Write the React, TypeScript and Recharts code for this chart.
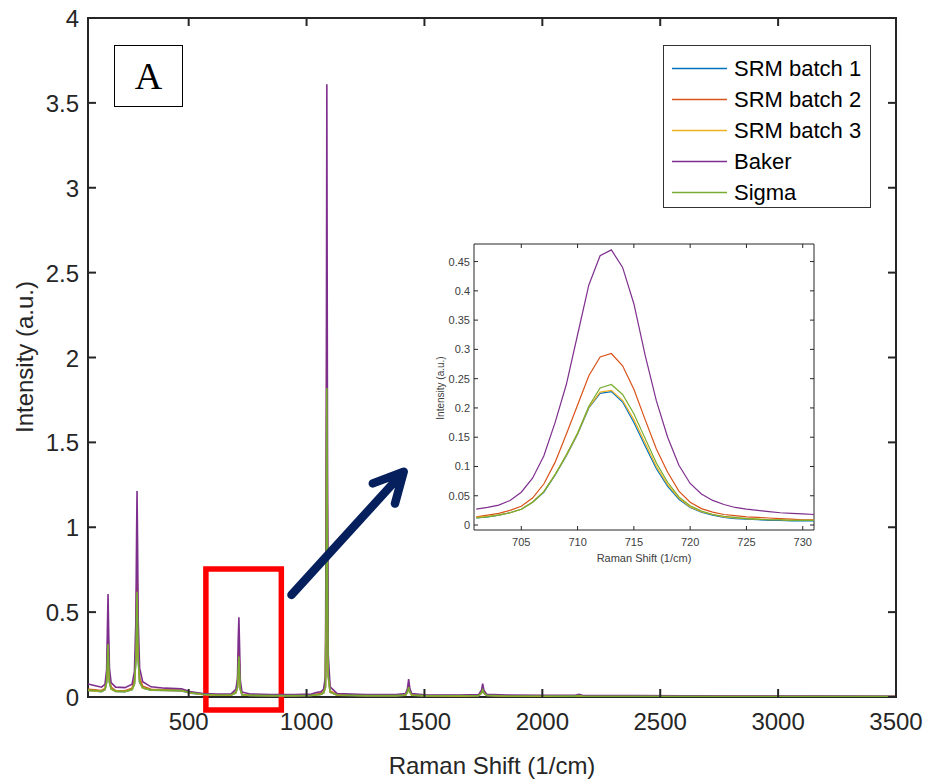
import { LineChart, Line, XAxis, YAxis, ReferenceArea, ReferenceLine, Label } from 'recharts'

const SANS = 'Liberation Sans, Arial, sans-serif'
const INK = '#262626'

const COLORS = ['#0072BD', '#D95319', '#EDB120', '#7E2F8E', '#77AC30']
const SERIES_NAMES = ['SRM batch 1', 'SRM batch 2', 'SRM batch 3', 'Baker', 'Sigma']
const SERIES_KEYS = ['srm1', 'srm2', 'srm3', 'baker', 'sigma']

// full spectrum, Raman shift (1/cm)
const RAMAN_X = [
  73, 100, 130, 145, 152, 155, 158, 161, 164, 171,
  190, 230, 260, 270, 276, 279, 281, 283, 286, 292, 305,
  340, 400, 470, 510, 560, 620, 680,
  700, 707, 710, 713, 716, 719, 726, 760, 850, 950,
  1020, 1045, 1060, 1072, 1080, 1083, 1086, 1089, 1092, 1100, 1130,
  1250, 1380, 1420, 1428, 1433, 1438, 1446, 1500, 1650,
  1730, 1742, 1747, 1752, 1764, 1850, 2000, 2140, 2155, 2170, 2400, 2800, 3200, 3500,
]

const SRM1 = [
  0.038, 0.035, 0.032, 0.043, 0.085, 0.19, 0.295, 0.18, 0.085, 0.047,
  0.032, 0.031, 0.043, 0.076, 0.22, 0.46, 0.59, 0.46, 0.22, 0.085, 0.052,
  0.04, 0.038, 0.036, 0.023, 0.015, 0.011, 0.011,
  0.024, 0.055, 0.155, 0.228, 0.135, 0.044, 0.012, 0.009, 0.008, 0.008,
  0.009, 0.013, 0.015, 0.023, 0.057, 0.57, 1.73, 0.62, 0.12, 0.028, 0.011,
  0.008, 0.008, 0.011, 0.028, 0.055, 0.028, 0.011, 0.007, 0.006,
  0.008, 0.023, 0.04, 0.022, 0.009, 0.006, 0.005, 0.005, 0.007, 0.005, 0.004, 0.003, 0.002, 0.002,
]

const SRM2 = [
  0.045, 0.042, 0.038, 0.05, 0.11, 0.24, 0.377, 0.23, 0.11, 0.058,
  0.038, 0.037, 0.052, 0.1, 0.28, 0.59, 0.76, 0.59, 0.28, 0.11, 0.064,
  0.046, 0.043, 0.04, 0.026, 0.017, 0.013, 0.013,
  0.03, 0.07, 0.205, 0.293, 0.18, 0.058, 0.016, 0.011, 0.01, 0.01,
  0.011, 0.017, 0.02, 0.03, 0.075, 0.74, 2.22, 0.8, 0.16, 0.036, 0.014,
  0.01, 0.01, 0.014, 0.036, 0.07, 0.036, 0.014, 0.009, 0.008,
  0.01, 0.03, 0.05, 0.03, 0.011, 0.007, 0.007, 0.006, 0.009, 0.006, 0.005, 0.004, 0.003, 0.003,
]

const SRM3 = [
  0.039, 0.036, 0.033, 0.044, 0.087, 0.195, 0.3, 0.185, 0.087, 0.048,
  0.033, 0.032, 0.044, 0.078, 0.225, 0.47, 0.6, 0.47, 0.225, 0.087, 0.053,
  0.041, 0.039, 0.037, 0.024, 0.015, 0.011, 0.011,
  0.025, 0.056, 0.156, 0.23, 0.138, 0.046, 0.013, 0.009, 0.008, 0.008,
  0.009, 0.013, 0.015, 0.024, 0.058, 0.58, 1.75, 0.63, 0.12, 0.029, 0.011,
  0.008, 0.008, 0.011, 0.029, 0.056, 0.029, 0.011, 0.007, 0.006,
  0.008, 0.024, 0.041, 0.023, 0.009, 0.006, 0.005, 0.005, 0.007, 0.005, 0.004, 0.003, 0.002, 0.002,
]

const BAKER = [
  0.077, 0.068, 0.058, 0.075, 0.16, 0.38, 0.607, 0.36, 0.17, 0.085,
  0.058, 0.055, 0.075, 0.15, 0.45, 0.95, 1.213, 0.95, 0.45, 0.17, 0.09,
  0.06, 0.052, 0.048, 0.03, 0.02, 0.017, 0.018,
  0.045, 0.11, 0.33, 0.47, 0.29, 0.1, 0.03, 0.018, 0.015, 0.014,
  0.017, 0.028, 0.03, 0.045, 0.12, 1.2, 3.61, 1.3, 0.25, 0.06, 0.02,
  0.014, 0.014, 0.02, 0.05, 0.105, 0.05, 0.02, 0.013, 0.012,
  0.015, 0.04, 0.078, 0.04, 0.016, 0.011, 0.01, 0.01, 0.016, 0.01, 0.008, 0.006, 0.005, 0.004,
]

const SIGMA = [
  0.041, 0.038, 0.034, 0.045, 0.09, 0.2, 0.31, 0.19, 0.09, 0.05,
  0.034, 0.033, 0.045, 0.08, 0.23, 0.48, 0.62, 0.48, 0.23, 0.09, 0.055,
  0.042, 0.04, 0.038, 0.025, 0.016, 0.012, 0.012,
  0.026, 0.058, 0.157, 0.24, 0.148, 0.048, 0.014, 0.01, 0.009, 0.009,
  0.01, 0.014, 0.016, 0.025, 0.06, 0.6, 1.82, 0.65, 0.13, 0.03, 0.012,
  0.009, 0.009, 0.012, 0.03, 0.058, 0.03, 0.012, 0.008, 0.007,
  0.009, 0.025, 0.042, 0.024, 0.01, 0.006, 0.006, 0.005, 0.008, 0.005, 0.004, 0.003, 0.003, 0.002,
]

// zoomed peak around 713 1/cm
const INSET_X = [
  701, 702, 703, 704, 705, 706, 707, 708, 709, 710, 711,
  712, 713, 714, 715, 716, 717, 718, 719, 720, 721,
  722, 723, 724, 725, 726, 727, 728, 729, 730, 731,
]
const INSET_SRM1 = [
  0.012, 0.014, 0.017, 0.021, 0.027, 0.039, 0.056, 0.085, 0.118, 0.155, 0.2,
  0.225, 0.228, 0.21, 0.175, 0.135, 0.096, 0.066, 0.044, 0.03, 0.022,
  0.017, 0.013, 0.011, 0.01, 0.009, 0.008, 0.008, 0.007, 0.007, 0.007,
]
const INSET_SRM2 = [
  0.014, 0.017, 0.02, 0.025, 0.032, 0.046, 0.07, 0.107, 0.155, 0.205, 0.255,
  0.287, 0.293, 0.272, 0.232, 0.18, 0.13, 0.09, 0.058, 0.039, 0.028,
  0.022, 0.018, 0.016, 0.014, 0.013, 0.012, 0.011, 0.01, 0.009, 0.009,
]
const INSET_SRM3 = [
  0.013, 0.015, 0.017, 0.021, 0.027, 0.039, 0.057, 0.086, 0.119, 0.156, 0.201,
  0.227, 0.23, 0.213, 0.18, 0.14, 0.1, 0.069, 0.046, 0.031, 0.023,
  0.018, 0.014, 0.012, 0.011, 0.01, 0.009, 0.009, 0.008, 0.008, 0.008,
]
const INSET_BAKER = [
  0.027, 0.03, 0.034, 0.042, 0.056, 0.08, 0.118, 0.175, 0.24, 0.325, 0.41,
  0.46, 0.47, 0.44, 0.378, 0.29, 0.212, 0.15, 0.102, 0.071, 0.053,
  0.042, 0.035, 0.03, 0.027, 0.025, 0.023, 0.021, 0.02, 0.019, 0.018,
]
const INSET_SIGMA = [
  0.012, 0.014, 0.017, 0.021, 0.027, 0.039, 0.057, 0.086, 0.12, 0.157, 0.203,
  0.234, 0.24, 0.223, 0.19, 0.148, 0.106, 0.073, 0.048, 0.033, 0.024,
  0.018, 0.015, 0.013, 0.011, 0.01, 0.009, 0.009, 0.008, 0.008, 0.008,
]

const X_TICKS = [500, 1000, 1500, 2000, 2500, 3000, 3500]
const Y_TICKS = [0, 0.5, 1, 1.5, 2, 2.5, 3, 3.5, 4]
const INSET_X_TICKS = [705, 710, 715, 720, 725, 730]
const INSET_Y_TICKS = [0, 0.05, 0.1, 0.15, 0.2, 0.25, 0.3, 0.35, 0.4, 0.45]

const mainData = RAMAN_X.map((x, i) => ({
  x, srm1: SRM1[i], srm2: SRM2[i], srm3: SRM3[i], baker: BAKER[i], sigma: SIGMA[i],
}))
const insetData = INSET_X.map((x, i) => ({
  x, srm1: INSET_SRM1[i], srm2: INSET_SRM2[i], srm3: INSET_SRM3[i], baker: INSET_BAKER[i], sigma: INSET_SIGMA[i],
}))

// main plot box (px inside the main svg)
const M = { left: 88, right: 896, top: 18, bottom: 697 }
// inset plot box (px inside the inset svg)
const I = { left: 54, right: 394, top: 8, bottom: 294 }

function MainXTick({ x, payload }: any) {
  return (
    <g>
      <line x1={x} x2={x} y1={M.bottom} y2={M.bottom - 8} stroke={INK} strokeWidth={2} />
      <line x1={x} x2={x} y1={M.top} y2={M.top + 8} stroke={INK} strokeWidth={2} />
      <text x={x} y={M.bottom + 33} textAnchor="middle" fontSize={24} fill={INK} fontFamily={SANS}>
        {payload.value}
      </text>
    </g>
  )
}

function MainYTick({ y, payload }: any) {
  return (
    <g>
      <line x1={M.left} x2={M.left + 8} y1={y} y2={y} stroke={INK} strokeWidth={2} />
      <line x1={M.right} x2={M.right - 8} y1={y} y2={y} stroke={INK} strokeWidth={2} />
      <text x={M.left - 9} y={y + 9} textAnchor="end" fontSize={24} fill={INK} fontFamily={SANS}>
        {payload.value}
      </text>
    </g>
  )
}

function InsetXTick({ x, payload }: any) {
  return (
    <g>
      <line x1={x} x2={x} y1={I.bottom} y2={I.bottom - 4} stroke={INK} />
      <line x1={x} x2={x} y1={I.top} y2={I.top + 4} stroke={INK} />
      <text x={x} y={I.bottom + 16} textAnchor="middle" fontSize={11} fill="#404040" fontFamily={SANS}>
        {payload.value}
      </text>
    </g>
  )
}

function InsetYTick({ y, payload }: any) {
  return (
    <g>
      <line x1={I.left} x2={I.left + 4} y1={y} y2={y} stroke={INK} />
      <line x1={I.right} x2={I.right - 4} y1={y} y2={y} stroke={INK} />
      <text x={I.left - 4} y={y + 4} textAnchor="end" fontSize={11} fill="#404040" fontFamily={SANS}>
        {payload.value}
      </text>
    </g>
  )
}

function Arrow({ x1, y1, x2, y2 }: any) {
  const len = Math.hypot(x1 - x2, y1 - y2)
  const ux = (x1 - x2) / len
  const uy = (y1 - y2) / len
  const a = (27 * Math.PI) / 180
  const head = 33
  const arm = (s: number) => ({
    x: x2 + head * (ux * Math.cos(s * a) - uy * Math.sin(s * a)),
    y: y2 + head * (ux * Math.sin(s * a) + uy * Math.cos(s * a)),
  })
  const p = arm(1)
  const q = arm(-1)
  return (
    <path
      d={`M${x1},${y1} L${x2},${y2} M${p.x},${p.y} L${x2},${y2} L${q.x},${q.y}`}
      fill="none"
      stroke="#06205e"
      strokeWidth={8.5}
      strokeLinecap="round"
      strokeLinejoin="round"
    />
  )
}

function LegendBox() {
  return (
    <div
      style={{
        position: 'absolute', left: 663, top: 45, width: 208, height: 163, boxSizing: 'border-box',
        border: '1px solid #333', background: '#fff', paddingTop: 7, fontFamily: SANS,
      }}
    >
      {SERIES_NAMES.map((name, i) => (
        <div key={name} style={{ height: 31, display: 'flex', alignItems: 'center' }}>
          <svg width={70} height={31}>
            <line x1={8} x2={63} y1={15.5} y2={15.5} stroke={COLORS[i]} strokeWidth={1.5} />
          </svg>
          <span style={{ fontSize: 22, color: '#000' }}>{name}</span>
        </div>
      ))}
    </div>
  )
}

export default function App() {
  return (
    <div style={{ position: 'absolute', left: 0, top: 0, width: 928, height: 779, background: '#fff', fontFamily: SANS }}>
      <LineChart width={928} height={779} data={mainData} margin={{ top: 18, right: 32, bottom: 32, left: 28 }}>
        <XAxis
          dataKey="x" type="number" domain={[73, 3500]} ticks={X_TICKS} allowDataOverflow
          height={50} axisLine={false} tickLine={false} tick={MainXTick} interval={0}
        >
          <Label
            content={() => (
              <text x={492} y={774} textAnchor="middle" fontSize={24} fill={INK} fontFamily={SANS}>
                Raman Shift (1/cm)
              </text>
            )}
          />
        </XAxis>
        <YAxis
          type="number" domain={[0, 4]} ticks={Y_TICKS} allowDataOverflow
          width={60} axisLine={false} tickLine={false} tick={MainYTick} interval={0}
        >
          <Label
            content={() => (
              <text
                x={0} y={0} transform="translate(33,357) rotate(-90)" textAnchor="middle"
                fontSize={24} fill={INK} fontFamily={SANS}
              >
                Intensity (a.u.)
              </text>
            )}
          />
        </YAxis>
        {SERIES_KEYS.map((k, i) => (
          <Line
            key={k} dataKey={k} name={SERIES_NAMES[i]} stroke={COLORS[i]} strokeWidth={1.6}
            dot={false} activeDot={false} type="linear" isAnimationActive={false}
          />
        ))}
        <ReferenceArea x1={73} x2={3500} y1={0} y2={4} fill="none" stroke={INK} strokeWidth={2} ifOverflow="visible" />
        <ReferenceArea
          x1={573} x2={893} y1={-0.077} y2={0.754} fill="none" fillOpacity={0}
          stroke="#ff0000" strokeWidth={5.5} ifOverflow="visible"
        />
        <ReferenceLine
          segment={[{ x: 936, y: 0.601 }, { x: 1412, y: 1.327 }]}
          ifOverflow="visible" shape={Arrow}
        />
      </LineChart>

      <LegendBox />

      <div
        style={{
          position: 'absolute', left: 114, top: 45, width: 69, height: 62, boxSizing: 'border-box',
          border: '1.5px solid #000', background: '#fff', display: 'flex', alignItems: 'center',
          justifyContent: 'center', fontFamily: 'Liberation Serif, Times New Roman, serif', fontSize: 38,
        }}
      >
        A
      </div>

      <div style={{ position: 'absolute', left: 420, top: 236, width: 400, height: 330 }}>
        <LineChart width={400} height={330} data={insetData} margin={{ top: 8, right: 6, bottom: 6, left: 14 }}>
          <XAxis
            dataKey="x" type="number" domain={[700.8, 731]} ticks={INSET_X_TICKS} allowDataOverflow
            height={30} axisLine={false} tickLine={false} tick={InsetXTick} interval={0}
          >
            <Label
              content={() => (
                <text x={I.left + 170} y={I.bottom + 32} textAnchor="middle" fontSize={11} fill="#404040" fontFamily={SANS}>
                  Raman Shift (1/cm)
                </text>
              )}
            />
          </XAxis>
          <YAxis
            type="number" domain={[-0.0085, 0.48]} ticks={INSET_Y_TICKS} allowDataOverflow
            width={40} axisLine={false} tickLine={false} tick={InsetYTick} interval={0}
          >
            <Label
              content={() => (
                <text
                  x={0} y={0} transform={`translate(24,${I.top + 144}) rotate(-90)`} textAnchor="middle"
                  fontSize={10} fill="#404040" fontFamily={SANS}
                >
                  Intensity (a.u.)
                </text>
              )}
            />
          </YAxis>
          {SERIES_KEYS.map((k, i) => (
            <Line
              key={k} dataKey={k} name={SERIES_NAMES[i]} stroke={COLORS[i]} strokeWidth={1.2}
              dot={false} activeDot={false} type="linear" isAnimationActive={false}
            />
          ))}
          <ReferenceArea x1={700.8} x2={731} y1={-0.0085} y2={0.48} fill="none" stroke={INK} strokeWidth={1} ifOverflow="visible" />
        </LineChart>
      </div>
    </div>
  )
}
